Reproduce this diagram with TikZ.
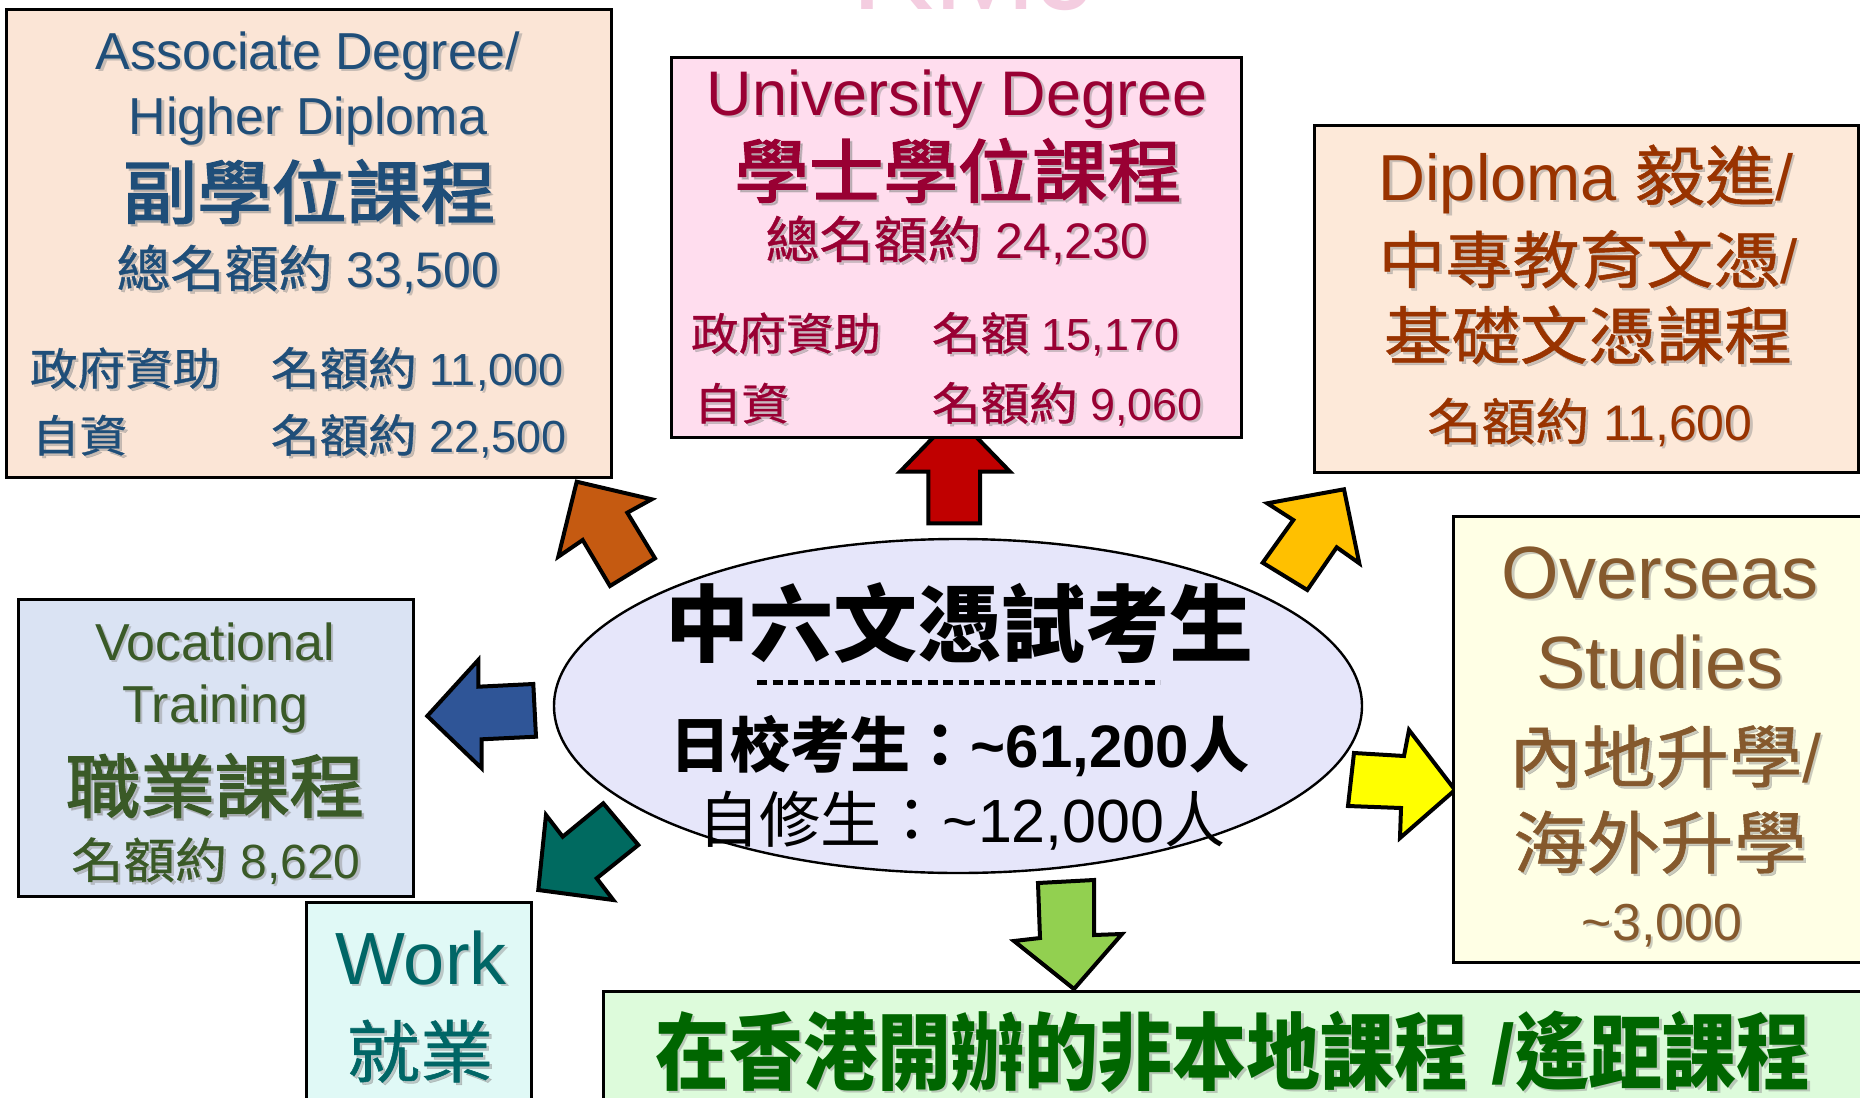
\documentclass[tikz,border=0pt]{standalone}
\usepackage{fontspec}
\setmainfont{Liberation Sans}
\newfontfamily\cjk[FakeStretch=1.08,FakeBold=0.8]{Noto Sans CJK TC}
\newfontfamily\cjkm[FakeStretch=1.08,FakeBold=2.5]{Noto Sans CJK TC}
\newfontfamily\cjkp{Noto Sans CJK TC}
\newfontfamily\cjkn[FakeStretch=0.88]{Noto Sans CJK TC}
\usetikzlibrary{shapes.geometric}
\newcommand\fs[1]{\fontsize{#1}{#1}\selectfont}
\newcommand\stx[4]{%
  \node[#1, text=black!45, opacity=0.45, xshift=1.25pt, yshift=-1.25pt] (#2s) at (#3) {#4};
  \node[#1] (#2) at (#3) {#4};}
\definecolor{tA}{HTML}{1F4E79}\definecolor{fA}{HTML}{FBE5D6}
\definecolor{tB}{HTML}{990033}\definecolor{fB}{HTML}{FFDDEE}
\definecolor{tC}{HTML}{993300}\definecolor{fC}{HTML}{FDE9D9}
\definecolor{tD}{HTML}{3A5A27}\definecolor{fD}{HTML}{DAE3F3}
\definecolor{tE}{HTML}{006666}\definecolor{fE}{HTML}{E0F9F6}
\definecolor{tF}{HTML}{85592D}\definecolor{fF}{HTML}{FFFFE5}
\definecolor{tG}{HTML}{006600}\definecolor{fG}{HTML}{DDFBDB}
\definecolor{fEl}{HTML}{E6E6FA}
\definecolor{aOr}{HTML}{C55A11}\definecolor{aRe}{HTML}{C00000}
\definecolor{aGo}{HTML}{FFC000}\definecolor{aBl}{HTML}{2F5597}
\definecolor{aTe}{HTML}{006A60}\definecolor{aGr}{HTML}{92D050}
\definecolor{aYe}{HTML}{FFFF00}\definecolor{pinkTop}{HTML}{F4CDE0}
\begin{document}
\begin{tikzpicture}[x=0.5pt,y=-0.5pt,
  box/.style={draw=black, line width=1.5pt, anchor=north west, inner sep=0pt, outer sep=0pt, rectangle},
  blk/.style={draw=black, line width=2pt, line join=miter},
  tx/.style={inner sep=0pt, outer sep=0pt, anchor=base},
  txl/.style={tx, anchor=base west},
  tA/.style={tx, text=tA}, tAl/.style={txl, text=tA},
  tB/.style={tx, text=tB}, tBl/.style={txl, text=tB},
  tC/.style={tx, text=tC}, tD/.style={tx, text=tD},
  tE/.style={tx, text=tE}, tF/.style={tx, text=tF}, tG/.style={tx, text=tG}]
\useasboundingbox (0,0) rectangle (1860,1098);
\begin{scope}
\clip (0,0) rectangle (1860,1098);
\fill[white] (0,0) rectangle (1860,1098);
% faint title remnant at the top
\begin{scope}
\clip (0,0) rectangle (1860,13);
\node[tx, text=pinkTop, font=\fs{62}] (toptitle) at (975,9) {KMJ};
\end{scope}
% block arrows
\draw[blk, fill=aOr] (576.7,481.7) -- (651.7,499.3) -- (627.3,512.7) -- (655,558.3) -- (610,586) -- (582.7,540) -- (558.3,556.7) -- cycle;
\draw[blk, fill=aRe] (955,415) -- (1010,471.7) -- (980,471.7) -- (980,523.3) -- (928.3,523.3) -- (928.3,471.7) -- (900,471.7) -- cycle;
\draw[blk, fill=aGo] (1344,489.3) -- (1359.3,563.3) -- (1336.7,547.3) -- (1307.3,590) -- (1262.7,562.7) -- (1293.3,520) -- (1267.3,503.3) -- cycle;
\draw[blk, fill=aBl] (427.3,716) -- (478.3,660) -- (478.3,686.7) -- (533.3,684) -- (536,736.7) -- (481.7,739.3) -- (481.7,768.3) -- cycle;
\draw[blk, fill=aTe] (538.3,890) -- (546,815) -- (562.7,836.7) -- (603.3,803.3) -- (638.3,845) -- (596.7,878.3) -- (613.3,900) -- cycle;
\draw[blk, fill=aGr] (1038,883) -- (1094,880) -- (1094,935) -- (1122,934) -- (1074,989) -- (1014,941) -- (1040,938) -- cycle;
\draw[blk, fill=aYe] (1354,753) -- (1404,756) -- (1409,730) -- (1455,790) -- (1400,838) -- (1401,808) -- (1348,806) -- cycle;
% boxes
\node[box, fill=fA, minimum width=302.5pt, minimum height=234pt] (b1) at (6,9) {};
\node[box, fill=fB, minimum width=285pt, minimum height=190pt] (b2) at (671,57) {};
\node[box, fill=fC, minimum width=272pt, minimum height=173.5pt] (b3) at (1314,125) {};
\node[box, fill=fD, minimum width=197.5pt, minimum height=148.5pt] (b4) at (18,599) {};
\node[box, fill=fE, minimum width=112.5pt, minimum height=110pt] (b5) at (306,902) {};
\node[box, fill=fF, minimum width=210pt, minimum height=223pt] (b6) at (1453,516) {};
\node[box, fill=fG, minimum width=635pt, minimum height=60pt] (b7) at (603,991) {};
% centre ellipse
\node[ellipse, draw=black, line width=1.2pt, fill=fEl, minimum width=404pt, minimum height=167pt, inner sep=0pt] (ctr) at (958,706) {};
% box 1 texts
\stx{tA, font=\fs{26}}{a1}{308,69}{Associate Degree/}
\stx{tA, font=\fs{26}}{a2}{308,134}{Higher Diploma}
\stx{tA, font=\fs{34.5}\cjkm}{a3}{309,218}{副學位課程}
\stx{tA, font=\fs{25}}{a4}{308,287}{{\cjk 總名額約} 33,500}
\stx{tAl, font=\fs{22}\cjk}{a5}{30,385}{政府資助}
\stx{tAl, font=\fs{22.5}}{a6}{271,385}{{\cjk 名額約} 11,000}
\stx{tAl, font=\fs{22}\cjk}{a7}{32,452}{自資}
\stx{tAl, font=\fs{22.5}}{a8}{271,452}{{\cjk 名額約} 22,500}
% box 2 texts
\stx{tB, font=\fs{31.5}}{u1}{957,115}{University Degree}
\stx{tB, font=\fs{34.5}\cjkm}{u2}{958,197}{學士學位課程}
\stx{tB, font=\fs{25}}{u3}{957,258}{{\cjk 總名額約} 24,230}
\stx{tBl, font=\fs{22}\cjk}{u4}{691,350}{政府資助}
\stx{tBl, font=\fs{22.5}}{u5}{932,350}{{\cjk 名額} 15,170}
\stx{tBl, font=\fs{22}\cjk}{u6}{694,420}{自資}
\stx{tBl, font=\fs{22.5}}{u7}{932,420}{{\cjk 名額約} 9,060}
% box 3 texts
\stx{tC, font=\fs{32.5}}{d1}{1586,200}{Diploma {\cjk 毅進}/}
\stx{tC, font=\fs{31}}{d2}{1588,283}{{\cjk 中專教育文憑}/}
\stx{tC, font=\fs{31.5}\cjk}{d3}{1588,359}{基礎文憑課程}
\stx{tC, font=\fs{25}}{d4}{1590,440}{{\cjk 名額約} 11,600}
% box 4 texts
\stx{tD, font=\fs{26}}{v1}{215,660}{Vocational}
\stx{tD, font=\fs{26}}{v2}{215,722}{Training}
\stx{tD, font=\fs{34.5}\cjkm}{v3}{215,812}{職業課程}
\stx{tD, font=\fs{24}}{v4}{216,878}{{\cjk 名額約} 8,620}
% box 5 texts
\stx{tE, font=\fs{37}}{w1}{421,984}{Work}
\stx{tE, font=\fs{34}\cjk}{w2}{420,1077}{就業}
% box 6 texts
\stx{tF, font=\fs{37}}{o1}{1660,598}{Overseas}
\stx{tF, font=\fs{37}}{o2}{1660,688}{Studies}
\stx{tF, font=\fs{34}}{o3}{1665,782}{{\cjk 內地升學}/}
\stx{tF, font=\fs{34}\cjk}{o4}{1660,868}{海外升學}
\stx{tF, font=\fs{26}}{o5}{1662,940}{\textasciitilde 3,000}
% box 7 text
\stx{tG, font=\bfseries\fs{42}}{g1}{1233,1083}{{\cjkn 在香港開辦的非本地課程} /{\cjkn 遙距課程}}
% ellipse texts
\node[tx, font=\bfseries\fs{42}\cjkp] (e1) at (959,655) {中六文憑試考生};
\draw[line width=2.5pt, dash pattern=on 5pt off 2.75pt] (757,682) coordinate (dl) -- (1160,682) coordinate (dr);
\node[tx, font=\bfseries\fs{30}] (e2) at (960,767) {{\cjkp 日校考生：}\textasciitilde 61,200{\cjkp 人}};
\node[tx, font=\fs{30.5}] (e3) at (962,842) {{\cjkp 自修生：}\textasciitilde 12,000{\cjkp 人}};
\end{scope}
\end{tikzpicture}
\end{document}
